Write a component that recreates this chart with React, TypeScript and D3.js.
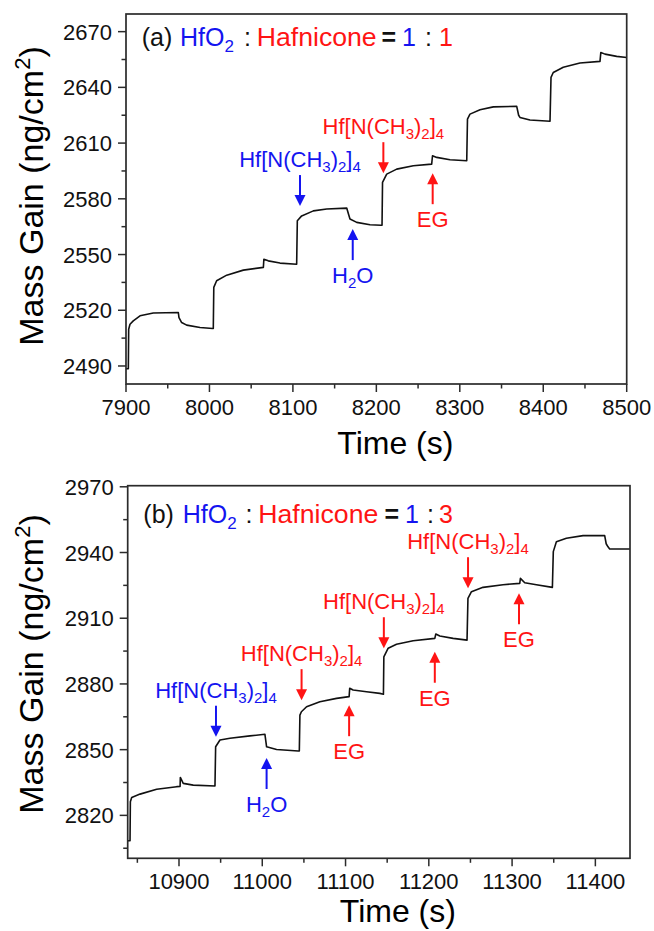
import React from "react";
import * as d3 from "d3";

// ---------- DATA ----------
const topTime = [7900, 7902.8, 7903.2, 7904.8, 7908.7, 7916.8, 7932.7, 7962.7, 7963.5, 7966.7, 7972.7, 7988.7, 8003.9, 8004.6, 8005.2, 8008.6, 8020.7, 8040.6, 8064.6, 8065.2, 8070.5, 8084.5, 8104.5, 8105.3, 8110.5, 8124.5, 8140.5, 8164.5, 8166.5, 8168.4, 8176.5, 8192.4, 8205.6, 8206.8, 8207.4, 8212.4, 8224.4, 8244.3, 8266.3, 8267.3, 8272.3, 8288.3, 8308.3, 8309.2, 8312.2, 8324.2, 8340.2, 8368.2, 8370.5, 8372.1, 8384.1, 8408.1, 8409.3, 8412, 8424, 8444, 8468, 8469, 8474, 8488, 8500];
const topMass = [2488.5, 2488.5, 2509.8, 2512.5, 2514.3, 2517.0, 2518.5, 2518.8, 2516.0, 2513.4, 2512.0, 2510.7, 2510.2, 2510.2, 2532.3, 2535.9, 2538.9, 2541.6, 2543.1, 2547.5, 2546.6, 2545.4, 2544.8, 2568.2, 2570.8, 2573.5, 2574.5, 2575.0, 2572.0, 2569.1, 2567.3, 2566.0, 2565.8, 2565.8, 2588.8, 2593.3, 2596.0, 2597.8, 2598.7, 2603.2, 2602.3, 2601.0, 2600.5, 2622.9, 2625.6, 2627.9, 2629.5, 2629.8, 2625.0, 2623.8, 2622.4, 2621.8, 2645.4, 2648.0, 2650.8, 2653.1, 2654.0, 2658.8, 2657.9, 2656.7, 2656.1];

const bottomTime = [10838.4, 10841.2, 10841.6, 10843.2, 10853.2, 10873.2, 10897.2, 10901.3, 10901.6, 10905.1, 10917.1, 10943.2, 10944.0, 10949.2, 10961.2, 10985.2, 11003.2, 11005.2, 11017.2, 11043.2, 11044.5, 11045.2, 11047, 11053.2, 11069.2, 11089.2, 11104.3, 11105, 11109.1, 11125.2, 11141.2, 11145.5, 11146, 11151.2, 11161.2, 11181.2, 11207.2, 11208.4, 11213.2, 11229.2, 11245.9, 11247, 11251.2, 11265.1, 11289.1, 11309.2, 11310, 11315.2, 11329.2, 11348.4, 11349.5, 11353.2, 11365.2, 11385.2, 11411.2, 11413, 11415.2, 11417.2, 11441.6];
const bottomMass = [2808.4, 2808.4, 2826.2, 2828.2, 2829.7, 2831.9, 2833.1, 2833.2, 2837.3, 2834.6, 2833.8, 2833.4, 2851.3, 2854.4, 2855.2, 2856.3, 2857.0, 2851.3, 2850.1, 2849.4, 2849.4, 2865.8, 2867.3, 2869.6, 2871.9, 2873.4, 2874.2, 2878.0, 2877.2, 2876.4, 2875.7, 2875.3, 2892.4, 2896.3, 2898.1, 2899.7, 2900.8, 2902.8, 2901.9, 2900.8, 2900.0, 2919.1, 2922.1, 2924.1, 2925.3, 2925.9, 2928.2, 2926.2, 2925.3, 2924.1, 2940.4, 2944.9, 2946.5, 2947.7, 2947.7, 2944.0, 2942.6, 2941.6, 2941.6];

const topXTicks = [7900, 8000, 8100, 8200, 8300, 8400, 8500];
const topYTicks = [2490, 2520, 2550, 2580, 2610, 2640, 2670];
const bottomXTicks = [10900, 11000, 11100, 11200, 11300, 11400];
const bottomYTicks = [2820, 2850, 2880, 2910, 2940, 2970];

const HF = "Hf";
// annotations: time, mass at arrow tip, direction, label kind, colour
const topNotes = [
  { t: 8108.5, v: 2576.1, dir: "down", kind: HF, color: "blue" },
  { t: 8171.7, v: 2563.7, dir: "up", kind: "H2O", color: "blue" },
  { t: 8208.4, v: 2593.8, dir: "down", kind: HF, color: "red" },
  { t: 8267.5, v: 2593.8, dir: "up", kind: "EG", color: "red" },
];
const bottomNotes = [
  { t: 10944.4, v: 2855.9, dir: "down", kind: HF, color: "blue" },
  { t: 11005.2, v: 2846.2, dir: "up", kind: "H2O", color: "blue" },
  { t: 11047.2, v: 2872.6, dir: "down", kind: HF, color: "red" },
  { t: 11104.3, v: 2870.3, dir: "up", kind: "EG", color: "red" },
  { t: 11146.0, v: 2896.3, dir: "down", kind: HF, color: "red" },
  { t: 11207.2, v: 2894.7, dir: "up", kind: "EG", color: "red" },
  { t: 11247.1, v: 2923.7, dir: "down", kind: HF, color: "red" },
  { t: 11308.3, v: 2921.4, dir: "up", kind: "EG", color: "red" },
];

const COLORS: Record<string, string> = { blue: "#1414f0", red: "#ff1414" };
const FONT = "'Liberation Sans', Arial, Helvetica, sans-serif";

function Label({ kind, x, y, color }: any) {
  const sub = { fontSize: 15 } as any;
  if (kind === HF) {
    return (
      <text x={x} y={y} textAnchor="middle" fill={color} fontSize={22} fontFamily={FONT}>
        Hf[N(CH<tspan dy={5} style={sub}>3</tspan><tspan dy={-5}>)</tspan>
        <tspan dy={5} style={sub}>2</tspan><tspan dy={-5}>]</tspan>
        <tspan dy={5} style={sub}>4</tspan>
      </text>
    );
  }
  if (kind === "H2O") {
    return (
      <text x={x} y={y} textAnchor="middle" fill={color} fontSize={22} fontFamily={FONT}>
        H<tspan dy={5} style={sub}>2</tspan><tspan dy={-5}>O</tspan>
      </text>
    );
  }
  return (
    <text x={x} y={y} textAnchor="middle" fill={color} fontSize={22} fontFamily={FONT}>
      {kind}
    </text>
  );
}

function Arrow({ x, tipY, dir, color }: any) {
  const len = 31;
  const head = 11;
  const hw = 5.5;
  const tailY = dir === "down" ? tipY - len : tipY + len;
  const s = dir === "down" ? -1 : 1;
  return (
    <g>
      <line x1={x} x2={x} y1={tailY} y2={tipY + s * head * 0.6} stroke={color} strokeWidth={2} />
      <path d={`M${x},${tipY} L${x - hw},${tipY + s * head} L${x + hw},${tipY + s * head} Z`} fill={color} />
    </g>
  );
}

function Panel({ time, mass, xDomain, yDomain, xTicks, yTicks, box, notes, letter, ratio, titleY, titleXs, yLabelCenter, xTitleY }: any) {
  const [L, T, R, B] = box;
  const x = d3.scaleLinear().domain(xDomain).range([L, R]);
  const y = d3.scaleLinear().domain(yDomain).range([B, T]);
  const pts = time.map((t: number, i: number) => [t, mass[i]] as [number, number]);
  const line = d3.line<[number, number]>().x((d) => x(d[0])).y((d) => y(d[1])).curve(d3.curveLinear);
  const xStep = xTicks[1] - xTicks[0];
  const yStep = yTicks[1] - yTicks[0];
  const xMinor = d3.range(xTicks[0] - xStep / 2, xDomain[1] + 0.01, xStep).filter((v) => v >= xDomain[0] && v <= xDomain[1] && !xTicks.includes(v));
  const yMinor = d3.range(yTicks[0] - yStep / 2, yDomain[1] + 0.01, yStep).filter((v) => v >= yDomain[0] && v <= yDomain[1] && !yTicks.includes(v));
  const axisColor = "#2b2b2b";
  const [xa, xh, xc, xhaf, xeq, x1, xc2, x2] = titleXs;
  return (
    <g>
      <path d={line(pts) || ""} fill="none" stroke="#111" strokeWidth={1.6} strokeLinejoin="round" />
      <rect x={L} y={T} width={R - L} height={B - T} fill="none" stroke={axisColor} strokeWidth={1.7} />
      {xTicks.map((v: number) => (
        <g key={"xt" + v}>
          <line x1={x(v)} x2={x(v)} y1={B} y2={B + 8} stroke={axisColor} strokeWidth={1.5} />
          <text x={x(v)} y={B + 31} textAnchor="middle" fontSize={22} fontFamily={FONT} fill="#111">{v}</text>
        </g>
      ))}
      {xMinor.map((v: number) => (
        <line key={"xm" + v} x1={x(v)} x2={x(v)} y1={B} y2={B + 4.5} stroke={axisColor} strokeWidth={1.5} />
      ))}
      {yTicks.map((v: number) => (
        <g key={"yt" + v}>
          <line x1={L - 8} x2={L} y1={y(v)} y2={y(v)} stroke={axisColor} strokeWidth={1.5} />
          <text x={L - 14} y={y(v) + 8} textAnchor="end" fontSize={22} fontFamily={FONT} fill="#111">{v}</text>
        </g>
      ))}
      {yMinor.map((v: number) => (
        <line key={"ym" + v} x1={L - 4.5} x2={L} y1={y(v)} y2={y(v)} stroke={axisColor} strokeWidth={1.5} />
      ))}
      <text transform={`translate(43,${yLabelCenter}) rotate(-90)`} textAnchor="middle" fontSize={34} fontFamily={FONT} fill="#000">
        Mass Gain (ng/cm<tspan dy={-13} fontSize={22}>2</tspan><tspan dy={13}>)</tspan>
      </text>
      <text x={(L + R) / 2 + 19} y={xTitleY} textAnchor="middle" fontSize={32} fontFamily={FONT} fill="#000">Time (s)</text>
      {/* panel title */}
      <g fontSize={25} fontFamily={FONT}>
        <text x={xa} y={titleY} fill="#111">({letter})</text>
        <text x={xh} y={titleY} fill={COLORS.blue}>HfO<tspan dy={6} fontSize={17}>2</tspan></text>
        <text x={xc} y={titleY} fill="#111">:</text>
        <text x={xhaf} y={titleY} fill={COLORS.red} textLength={120} lengthAdjust="spacingAndGlyphs">Hafnicone</text>
        <text x={xeq} y={titleY} fill="#111" fontWeight="bold">=</text>
        <text x={x1} y={titleY} fill={COLORS.blue}>1</text>
        <text x={xc2} y={titleY} fill="#111">:</text>
        <text x={x2} y={titleY} fill={COLORS.red}>{ratio}</text>
      </g>
      {notes.map((n: any, i: number) => {
        const px = x(n.t);
        const tip = y(n.v);
        const col = COLORS[n.color];
        const tail = n.dir === "down" ? tip - 31 : tip + 31;
        const ly = n.dir === "down" ? tail - 8 : tail + 23;
        return (
          <g key={"n" + i}>
            <Arrow x={px} tipY={tip} dir={n.dir} color={col} />
            <Label kind={n.kind} x={px} y={ly} color={col} />
          </g>
        );
      })}
    </g>
  );
}

export default function App() {
  return (
    <svg width={654} height={931} style={{ position: "absolute", left: 0, top: 0, background: "#fff" }}>
      <rect x={0} y={0} width={654} height={931} fill="#fff" />
      <Panel
        time={topTime}
        mass={topMass}
        xDomain={[7900, 8500]}
        yDomain={[2480.3, 2679.5]}
        xTicks={topXTicks}
        yTicks={topYTicks}
        box={[126, 14, 626.7, 384]}
        notes={topNotes}
        letter="a"
        ratio="1"
        titleY={45.5}
        titleXs={[141.7, 180, 244, 256.7, 381.5, 402, 425, 439]}
        yLabelCenter={196}
        xTitleY={454}
      />
      <Panel
        time={bottomTime}
        mass={bottomMass}
        xDomain={[10838.4, 11441.6]}
        yDomain={[2800.4, 2970.5]}
        xTicks={bottomXTicks}
        yTicks={bottomYTicks}
        box={[127.7, 485.7, 630, 858.3]}
        notes={bottomNotes}
        letter="b"
        ratio="3"
        titleY={523}
        titleXs={[143.3, 182.7, 245.5, 258.3, 384.5, 405, 427, 439]}
        yLabelCenter={664}
        xTitleY={922}
      />
    </svg>
  );
}
